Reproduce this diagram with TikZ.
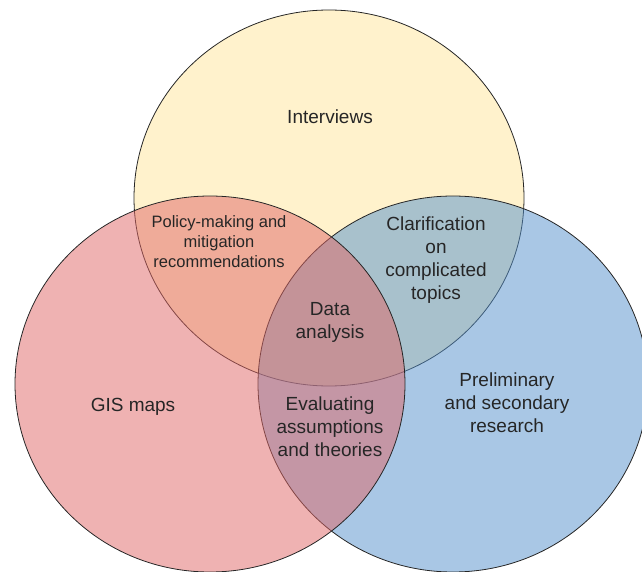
\documentclass[tikz,border=0pt]{standalone}
\usepackage{fontspec}
\setmainfont{Liberation Sans}
\usepackage{tikz}
\definecolor{intyellow}{HTML}{FFE599}
\definecolor{gisred}{HTML}{E06666}
\definecolor{resblue}{HTML}{5390CC}

\begin{document}
\begin{tikzpicture}[x=1pt,y=1pt,
    lbl/.style={align=center,inner sep=0pt,text=black!85,font=\fontsize{19}{23}\selectfont},
    small/.style={lbl,font=\fontsize{16.5}{20}\selectfont},
    set/.style={fill opacity=0.5,draw=black!85,line width=0.8pt}]
    \useasboundingbox (0,0) rectangle (642,571);

    \draw[set,fill=intyellow] (329,373) ellipse [x radius=195,y radius=188];
    \draw[set,fill=resblue] (453,187) ellipse [x radius=195,y radius=188];
    \draw[set,fill=gisred] (210,187) ellipse [x radius=195,y radius=188];

    \node[lbl](int)at(330,454){Interviews};
    \node[lbl](gis)at(133,164){GIS maps};
    \node[lbl](res)at(507,168){Preliminary\\and secondary\\research};
    \node[small](pol)at(219,329){Policy-making and\\mitigation\\recommendations};
    \node[lbl](cla)at(436,311){Clarification\\on\\complicated\\topics};
    \node[lbl](eva)at(330,144){Evaluating\\assumptions\\and theories};
    \node[lbl](dat)at(330,249){Data\\analysis};
  \end{tikzpicture}
\end{document}
